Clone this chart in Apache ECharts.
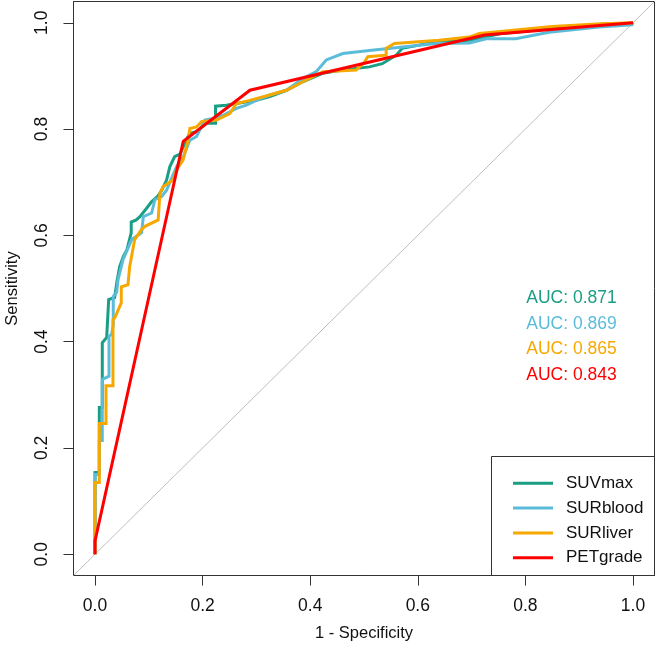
<!DOCTYPE html>
<html>
<head>
<meta charset="utf-8">
<script src="https://cdn.jsdelivr.net/npm/echarts@6/dist/echarts.min.js"></script>
<style>html,body{margin:0;padding:0;background:#fff;}#chart{width:657px;height:652px;}</style>
</head>
<body>
<div id="chart"></div>
<script>
const seriesNames = ['SUVmax', 'SURblood', 'SURliver', 'PETgrade'];
const aucValues = ['0.871', '0.869', '0.865', '0.843'];
const tickValues = [0, 0.2, 0.4, 0.6, 0.8, 1.0];

const suvmaxFpr = [0,0,0.008,0.008,0.0135,0.0135,0.0217,0.0254,0.0254,0.0365,0.0408,0.0458,0.0525,0.0594,0.0673,0.0673,0.0766,0.0835,0.0959,0.105,0.117,0.124,0.133,0.139,0.148,0.158,0.167,0.176,0.189,0.207,0.224,0.224,0.244,0.263,0.300,0.325,0.356,0.386,0.423,0.460,0.510,0.534,0.560,0.571,0.634,0.696,0.757,0.819,0.881,0.942,0.998,1];
const suvmaxTpr = [0,0.154,0.154,0.276,0.276,0.398,0.408,0.408,0.479,0.483,0.513,0.541,0.560,0.573,0.605,0.625,0.629,0.635,0.651,0.663,0.674,0.685,0.704,0.729,0.748,0.753,0.774,0.792,0.795,0.811,0.811,0.843,0.845,0.848,0.854,0.861,0.873,0.889,0.905,0.911,0.917,0.923,0.939,0.952,0.964,0.967,0.980,0.986,0.992,0.997,0.998,1];

const surbloodFpr = [0,0,0.008,0.008,0.0135,0.0135,0.026,0.026,0.0309,0.0339,0.0339,0.0402,0.0427,0.0519,0.0681,0.0866,0.0897,0.1052,0.1113,0.1238,0.133,0.1516,0.164,0.1763,0.1887,0.2041,0.2195,0.238,0.2629,0.2814,0.2999,0.3247,0.3556,0.3865,0.4113,0.4298,0.4607,0.51,0.541,0.634,0.696,0.727,0.782,0.844,0.937,0.998,1];
const surbloodTpr = [0,0.150,0.150,0.214,0.214,0.329,0.335,0.410,0.414,0.432,0.485,0.493,0.516,0.554,0.592,0.605,0.635,0.642,0.667,0.673,0.685,0.729,0.748,0.779,0.786,0.817,0.820,0.826,0.839,0.845,0.854,0.864,0.873,0.895,0.908,0.930,0.942,0.948,0.951,0.961,0.962,0.970,0.970,0.982,0.992,0.996,1];

const surliverFpr = [0,0,0.008,0.008,0.0204,0.0204,0.0334,0.0334,0.0377,0.0488,0.0488,0.0612,0.0644,0.0737,0.0859,0.0928,0.1174,0.1206,0.1267,0.1453,0.1516,0.1638,0.1731,0.1763,0.1887,0.198,0.2258,0.2505,0.2629,0.2876,0.3247,0.3556,0.3865,0.4236,0.4855,0.5009,0.5071,0.5412,0.5412,0.5566,0.64,0.6957,0.7143,0.85,0.94,1];
const surliverTpr = [0,0.135,0.135,0.246,0.246,0.317,0.317,0.441,0.447,0.473,0.503,0.507,0.541,0.592,0.610,0.617,0.629,0.679,0.692,0.704,0.723,0.742,0.779,0.801,0.804,0.814,0.817,0.829,0.848,0.854,0.864,0.873,0.889,0.908,0.911,0.926,0.936,0.939,0.952,0.961,0.967,0.973,0.980,0.993,0.998,1];

const petgradeFpr = [0,0,0.164,0.288,0.724,1];
const petgradeTpr = [0,0.025,0.777,0.873,0.977,1];

const diagX = [-0.04, 1.04];
const diagY = [-0.04, 1.04];

const colors = ['#1A9E84', '#5BBCD9', '#F7A800', '#FF0000'];
const zip = (a, b) => a.map((v, i) => [v, b[i]]);
const curves = [
  zip(suvmaxFpr, suvmaxTpr),
  zip(surbloodFpr, surbloodTpr),
  zip(surliverFpr, surliverTpr),
  zip(petgradeFpr, petgradeTpr)
];

const FONT = '"Liberation Sans", Arial, sans-serif';
const chart = echarts.init(document.getElementById('chart'), null, {renderer: 'canvas'});

const series = [{
  name: 'diag', type: 'line', data: zip(diagX, diagY), showSymbol: false, symbol: 'none',
  lineStyle: {color: '#BEBEBE', width: 1}, silent: true, z: 1, animation: false
}];
seriesNames.forEach((n, i) => {
  series.push({
    name: n, type: 'line', data: curves[i], showSymbol: false, symbol: 'none',
    itemStyle: {color: colors[i]},
    lineStyle: {color: colors[i], width: 3, join: 'miter'},
    z: 2 + i, animation: false
  });
});

const aucTexts = aucValues.map((v, i) => ({
  type: 'text', x: 571.5, y: 298 + i * 25.7,
  style: {text: 'AUC: ' + v, fill: colors[i], font: '17.5px ' + FONT, textAlign: 'center', textVerticalAlign: 'middle'}
}));

const axisCommon = {
  type: 'value', min: -0.04, max: 1.04,
  nameLocation: 'middle',
  nameTextStyle: {fontFamily: FONT, fontSize: 16.5, color: '#111'},
  axisLine: {show: true, onZero: false, lineStyle: {color: '#333', width: 1}},
  splitLine: {show: false},
  axisTick: {show: true, inside: false, length: 10, customValues: tickValues, lineStyle: {color: '#333', width: 1}},
};

chart.setOption({
  animation: false,
  backgroundColor: '#ffffff',
  grid: {left: 73.5, right: 2.5, top: 1.5, bottom: 76.5, show: true, borderColor: '#333', borderWidth: 1, outerBoundsMode: 'none', containLabel: false},
  xAxis: Object.assign({}, axisCommon, {
    position: 'bottom',
    name: '1 - Specificity', nameGap: 49,
    axisLabel: {customValues: tickValues, formatter: v => v.toFixed(1), margin: 22, fontFamily: FONT, fontSize: 17.5, color: '#111'}
  }),
  yAxis: Object.assign({}, axisCommon, {
    position: 'left',
    name: 'Sensitivity', nameGap: 53, nameRotate: 90,
    axisLabel: {customValues: tickValues, rotate: 90, formatter: v => v.toFixed(1), margin: 22, fontFamily: FONT, fontSize: 17.5, color: '#111'}
  }),
  legend: {
    data: seriesNames, orient: 'vertical', left: 508, top: 468.3,
    icon: 'rect', itemWidth: 40, itemHeight: 3, itemGap: 4.8,
    textStyle: {fontFamily: FONT, fontSize: 17, lineHeight: 20, color: '#111', padding: [0, 0, 0, 8]},
    selectedMode: false
  },
  graphic: [
    {type: 'rect', shape: {x: 491.5, y: 456.5, width: 163, height: 119}, style: {fill: 'none', stroke: '#333', lineWidth: 1}, z: 10, silent: true}
  ].concat(aucTexts),
  series: series
});
</script>
</body>
</html>
